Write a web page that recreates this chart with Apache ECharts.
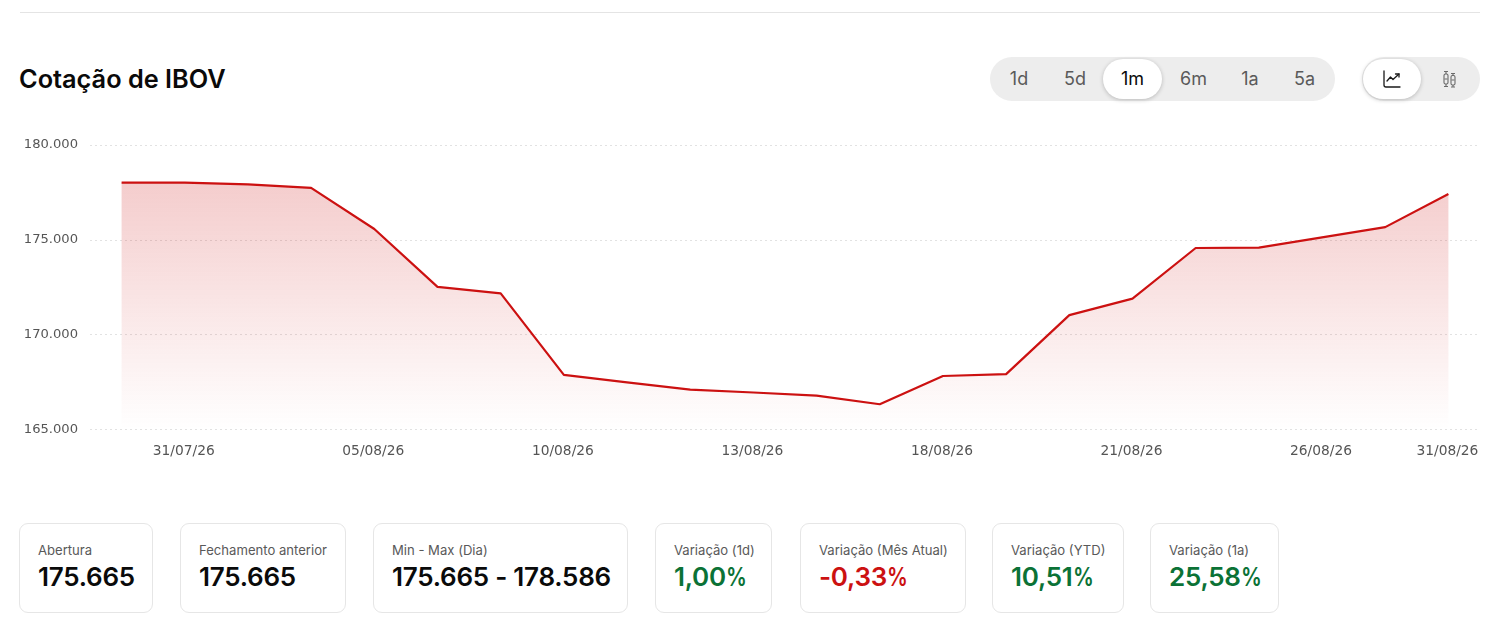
<!DOCTYPE html>
<html><head><meta charset="utf-8">
<script src="https://cdn.jsdelivr.net/npm/echarts@6/dist/echarts.min.js"></script>
<style>
html,body{margin:0;padding:0;background:#fff;width:1505px;height:630px;overflow:hidden;font-family:Inter,sans-serif}
#rule{position:absolute;left:20px;top:12px;width:1460px;height:1px;background:#e4e4e4}
#title{position:absolute;left:19px;top:63px;font-size:25.3px;line-height:32px;font-weight:600;color:#0a0a0a}
.pill{position:absolute;top:57px;height:44px;background:#ededed;border-radius:22px}
.tab{position:absolute;top:59px;height:40px;line-height:40px;text-align:center;font-size:18px;color:#5a5a5a}
.tab.on{background:#fff;border-radius:20px;box-shadow:0 1px 4px rgba(0,0,0,.22);color:#0a0a0a;z-index:2}
#chart{position:absolute;left:0;top:120px;width:1505px;height:350px}
.card{position:absolute;top:523px;height:90px;box-sizing:border-box;border:1px solid #e6e6e6;border-radius:9px;background:#fff}
.card .l{position:absolute;top:18px;font-size:13.1px;line-height:16px;color:#595959;white-space:nowrap}
.card .v{position:absolute;top:36px;font-size:26px;line-height:34px;font-weight:600;color:#0a0a0a;white-space:nowrap;letter-spacing:-0.25px}
.pct{display:inline-block;transform:scaleX(.8);transform-origin:left center;margin-right:-5px}
svg.ic{position:absolute;z-index:3}
</style></head><body>
<div id="rule"></div>
<div id="title">Cotação de IBOV</div>
<div class="pill" style="left:990px;width:345px"></div>
<div class="pill" style="left:1362px;width:118px"></div>
<div id="tabs"></div>
<div class="tab on" style="left:1363px;width:58px"></div>
<div class="tab" style="left:1421px;width:58px"></div>
<svg class="ic" style="left:1383px;top:70px" width="18" height="18" viewBox="0 0 18 18" fill="none" stroke="#1a1a1a" stroke-width="1.3" stroke-linecap="round" stroke-linejoin="round"><path d="M1 1v14a2 2 0 0 0 2 2h14"/><path d="M4 11l3.5-4 2.5 2.5L16 4"/><path d="M12.5 4H16v3"/></svg>
<svg class="ic" style="left:1443px;top:70px" width="13" height="18" viewBox="0 0 13 18" fill="none" stroke="#6a6a6a" stroke-width="1.1"><path d="M1 1.5h4M3 1.5v2.5M3 14v2.5M1 16.5h4M8 3.5h4M10 3.5v2M10 15v2M8 17h4"/><rect x="1" y="4" width="4" height="10" rx="1.5"/><rect x="8" y="5.5" width="4" height="9.5" rx="1.5"/><path d="M1.5 9h3M8.5 10h3"/></svg>
<div id="chart"></div>
<div id="cards"></div>
<script>
const dates=['30/07/26','31/07/26','03/08/26','04/08/26','05/08/26','06/08/26','07/08/26','10/08/26','11/08/26','12/08/26','13/08/26','14/08/26','17/08/26','18/08/26','19/08/26','20/08/26','21/08/26','24/08/26','25/08/26','26/08/26','27/08/26','31/08/26'];
const closes=[178020,178020,177920,177740,175570,172520,172180,167880,167480,167100,166950,166790,166330,167820,167920,171030,171900,174570,174590,175130,175670,177420];
const yTicks=[165000,170000,175000,180000];
const ranges=['1d','5d','1m','6m','1a','5a'];
const rangeLeft=[990,1047,1103,1164,1222,1276];
const rangeWidth=[58,56,59,59,56,57];
const activeRange='1m';
const statLabels=['Abertura','Fechamento anterior','Min - Max (Dia)','Variação (1d)','Variação (Mês Atual)','Variação (YTD)','Variação (1a)'];
const statValues=['175.665','175.665','175.665 - 178.586','1,00%','-0,33%','10,51%','25,58%'];
const statColors=['#0a0a0a','#0a0a0a','#0a0a0a','#0b7236','#cc1111','#0b7236','#0b7236'];
const cardLeft=[19,180,373,655,800,992,1150];
const cardWidth=[134,166,255,117,166,132,129];

document.getElementById('tabs').innerHTML=ranges.map((r,i)=>`<div class="tab${r===activeRange?' on':''}" style="left:${rangeLeft[i]}px;width:${rangeWidth[i]}px">${r}</div>`).join('');
document.getElementById('cards').innerHTML=statLabels.map((l,i)=>`<div class="card" style="left:${cardLeft[i]}px;width:${cardWidth[i]}px"><div class="l" style="left:18px">${l}</div><div class="v" style="left:18px;color:${statColors[i]}">${statValues[i].replace('%','<span class="pct">%</span>')}</div></div>`).join('');

const fmt=v=>String(v).replace(/\B(?=(\d{3})+$)/g,'.');
const chart=echarts.init(document.getElementById('chart'),null,{renderer:'canvas'});
chart.setOption({
  animation:false,
  grid:{left:90,right:25,top:25,height:284.5},
  xAxis:{type:'category',data:dates,boundaryGap:true,
    axisLine:{show:false},axisTick:{show:false},splitLine:{show:false},
    axisLabel:{interval:(i)=>i%3===1||i===dates.length-1,hideOverlap:false,margin:15,padding:[0,2,0,0],fontFamily:'DejaVu Sans',fontSize:13.8,color:'#555'}},
  yAxis:{type:'value',min:165000,max:180000,interval:5000,
    axisLine:{show:false},axisTick:{show:false},
    axisLabel:{margin:12,padding:[7,0,0,0],fontFamily:'DejaVu Sans',fontSize:13.1,color:'#555',formatter:fmt},
    splitLine:{lineStyle:{color:'#e2e2e2',type:[2,3],width:1}}},
  series:[{type:'line',data:closes,smooth:false,symbol:'none',
    lineStyle:{color:'#cc1111',width:2.2,join:'round'},
    areaStyle:{opacity:1,origin:'start',color:new echarts.graphic.LinearGradient(0,0,0,1,[{offset:0,color:'rgba(204,17,17,0.21)'},{offset:1,color:'rgba(204,17,17,0)'}])}}]
});
</script>
</body></html>
